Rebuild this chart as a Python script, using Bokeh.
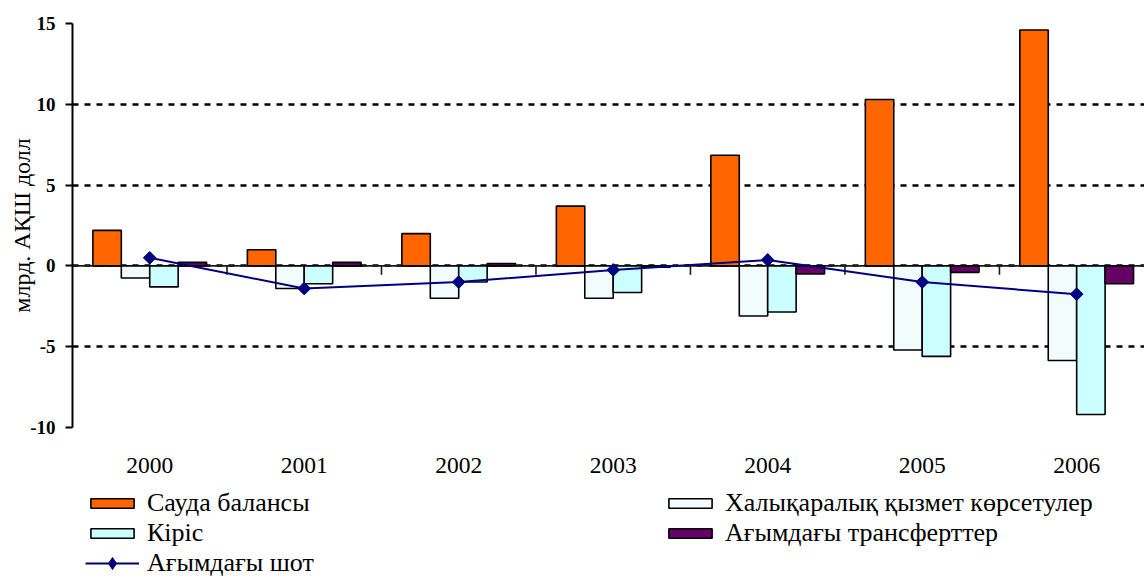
import numpy as np
from bokeh.plotting import figure
from bokeh.layouts import column
from bokeh.models import Range1d, FixedTicker, Span, Legend, LegendItem
from bokeh.embed import file_html
from bokeh.resources import INLINE

years = ["2000", "2001", "2002", "2003", "2004", "2005", "2006"]
trade_balance = [2.2, 1.0, 2.0, 3.7, 6.85, 10.3, 14.6]
services = [-0.75, -1.4, -2.0, -2.0, -3.1, -5.2, -5.85]
income = [-1.3, -1.1, -1.0, -1.65, -2.85, -5.6, -9.2]
transfers = [0.22, 0.22, 0.15, -0.08, -0.5, -0.4, -1.1]
current_account = [0.5, -1.4, -1.0, -0.25, 0.37, -1.0, -1.75]

series_names = ["Сауда балансы", "Халықаралық қызмет көрсетулер", "Кіріс",
                "Ағымдағы трансферттер"]
line_name = "Ағымдағы шот"
y_ticks = [-10, -5, 0, 5, 10, 15]
y_label = "млрд. АҚШ долл"

FONT = "Liberation Serif"
n = len(years)
centers = np.arange(n) + 0.5
boundaries = np.arange(1, n)

colors = ["#FF6600", "#F3FCFC", "#CCFFFF", "#660066"]
line_color = "#000080"

p = figure(width=1144, height=487, output_backend="svg", toolbar_location=None,
           x_range=Range1d(0, 6.939), y_range=Range1d(-10, 15),
           min_border_left=72, min_border_right=0, min_border_top=23,
           min_border_bottom=60)
p.outline_line_color = None
p.background_fill_color = "white"
p.border_fill_color = "white"

# grid
p.xgrid.visible = False
p.ygrid.ticker = FixedTicker(ticks=y_ticks)
p.ygrid.grid_line_color = "black"
p.ygrid.grid_line_width = 2.5
p.ygrid.grid_line_dash = "6 6"

p.add_layout(Span(location=0, dimension="width", line_color="#1a1a1a",
                  line_width=1.6, level="underlay"))

bw = 0.184
bar_series = [trade_balance, services, income, transfers]
for i, vals in enumerate(bar_series):
    p.vbar(x=centers + (i - 1.5) * bw, top=vals, bottom=0, width=bw,
           fill_color=colors[i], line_color="black", line_width=1.6)

# category boundary ticks on the zero line
p.segment(x0=boundaries, y0=0, x1=boundaries, y1=-0.55, line_color="#1a1a1a",
          line_width=1.6)

p.line(centers, current_account, line_color=line_color, line_width=2)
p.scatter(centers, current_account, marker="square", angle=np.pi / 4, size=9,
          fill_color=line_color, line_color=line_color)

# axes
xa = p.xaxis[0]
xa.ticker = FixedTicker(ticks=list(centers))
xa.major_label_overrides = {float(c): y for c, y in zip(centers, years)}
xa.axis_line_color = None
xa.major_tick_line_color = None
xa.minor_tick_line_color = None
xa.major_tick_out = 0
xa.major_tick_in = 0
xa.major_label_standoff = 30
xa.major_label_text_font = FONT
xa.major_label_text_font_size = "23.5px"
xa.major_label_text_color = "black"

ya = p.yaxis[0]
ya.ticker = FixedTicker(ticks=y_ticks)
ya.major_label_overrides = {t: str(t) for t in y_ticks}
ya.axis_line_width = 2
ya.axis_line_color = "black"
ya.major_tick_line_width = 2
ya.major_tick_line_color = "black"
ya.major_tick_out = 7
ya.major_tick_in = 0
ya.minor_tick_line_color = None
ya.major_label_standoff = 10
ya.major_label_text_font = FONT
ya.major_label_text_font_size = "19px"
ya.major_label_text_font_style = "bold"
ya.major_label_text_color = "black"
ya.axis_label = y_label
ya.axis_label_text_font = FONT
ya.axis_label_text_font_size = "24px"
ya.axis_label_text_font_style = "normal"
ya.axis_label_text_color = "black"
ya.axis_label_standoff = -8

# legend panel (separate figure below the chart; its frame aligns with the chart's)
lg = figure(width=1144, height=92, output_backend="svg", toolbar_location=None,
            x_range=Range1d(0, 1), y_range=Range1d(0, 1),
            x_axis_location=None, y_axis_location=None,
            min_border_left=0, min_border_right=0, min_border_top=0,
            min_border_bottom=0)
lg.outline_line_color = None
lg.grid.visible = False
lg.border_fill_color = "white"
lg.background_fill_color = "white"

# legend proxies: one undefined point each, so nothing is drawn in the panel
nan = [float("nan")]
dummy = []
for c in colors:
    dummy.append(lg.vbar(x=nan, top=nan, bottom=nan, width=0.1, fill_color=c,
                         line_color="black", line_width=1.6))
dl = lg.line(x=nan, y=nan, line_color=line_color, line_width=2)
ds = lg.scatter(x=nan, y=nan, marker="diamond", size=12,
                fill_color=line_color, line_color=line_color)

common = dict(glyph_width=54, label_standoff=8, spacing=0, padding=0, margin=0,
              border_line_color=None, background_fill_alpha=0,
              label_text_font=FONT, label_text_font_size="26px",
              label_text_color="black")

bar_items = [LegendItem(label=series_names[i], renderers=[dummy[i]]) for i in range(4)]
legend_bars = Legend(items=bar_items, orientation="horizontal", ncols=2,
                     location=(13, 31), glyph_height=12, label_width=516,
                     label_height=29, **common)
legend_line = Legend(items=[LegendItem(label=line_name, renderers=[dl, ds])],
                     location=(13, 1), glyph_height=30, label_height=30, **common)
lg.add_layout(legend_bars, "center")
lg.add_layout(legend_line, "center")

layout = column(p, lg, spacing=0)
open("out.html", "w").write(file_html(layout, INLINE))
